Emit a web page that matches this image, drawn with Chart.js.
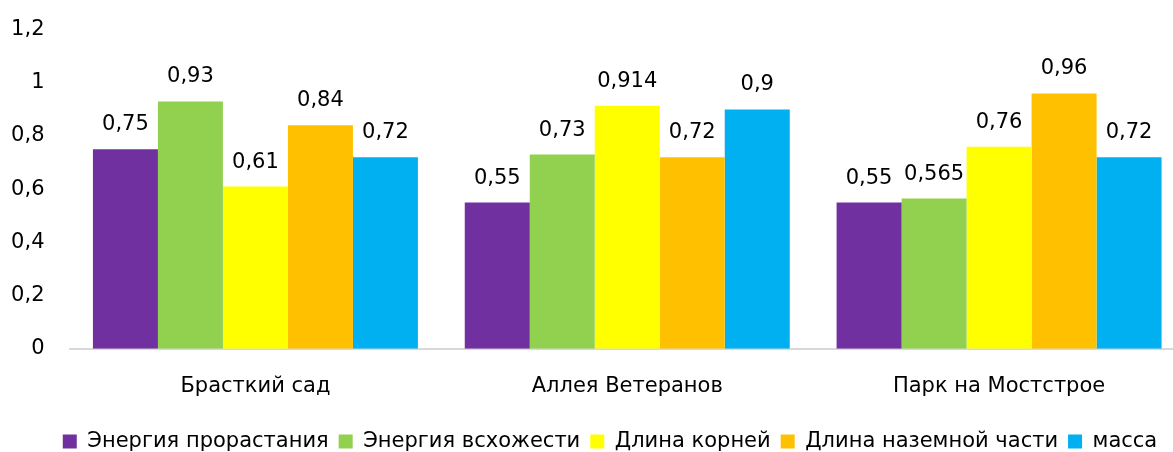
<!DOCTYPE html>
<html>
<head>
<meta charset="utf-8">
<script src="https://cdn.jsdelivr.net/npm/chart.js@4"></script>
<style>
html,body{margin:0;padding:0;background:#fff;overflow:hidden;}
#wrap{width:1185px;height:452px;}
</style>
</head>
<body>
<div id="wrap"><canvas id="c" width="1185" height="452"></canvas></div>
<script>
const categories = ["Брасткий сад", "Аллея Ветеранов", "Парк на Мостстрое"];
const seriesNames = ["Энергия прорастания", "Энергия всхожести", "Длина корней", "Длина наземной части", "масса"];
const energyGermination = [0.75, 0.55, 0.55];
const energyEmergence = [0.93, 0.73, 0.565];
const rootLength = [0.61, 0.914, 0.76];
const shootLength = [0.84, 0.72, 0.96];
const mass = [0.72, 0.9, 0.72];
const yTickLabels = ["0", "0,2", "0,4", "0,6", "0,8", "1", "1,2"];
const colors = ["#7030A0", "#92D050", "#FFFF00", "#FFC000", "#00B0F0"];

const FONT = "'DejaVu Sans', sans-serif";
const FS = 21;
const seriesValues = [energyGermination, energyEmergence, rootLength, shootLength, mass];

const valueLabels = {
  id: 'valueLabels',
  afterDatasetsDraw(chart) {
    const ctx = chart.ctx;
    ctx.save();
    ctx.font = FS + "px " + FONT;
    ctx.fillStyle = "#000";
    ctx.textAlign = "center";
    ctx.textBaseline = "alphabetic";
    chart.data.datasets.forEach((ds, i) => {
      const meta = chart.getDatasetMeta(i);
      meta.data.forEach((bar, j) => {
        const txt = String(ds.data[j]).replace('.', ',');
        ctx.fillText(txt, bar.x, bar.y - 19);
      });
    });
    ctx.restore();
  }
};

const legendShift = {
  id: 'legendShift',
  afterLayout(chart) {
    if (chart.legend) chart.legend.left = 35;
  }
};

new Chart(document.getElementById('c'), {
  type: 'bar',
  data: {
    labels: categories,
    datasets: seriesNames.map((n, i) => ({
      label: n,
      data: seriesValues[i],
      backgroundColor: colors[i],
      borderWidth: 0,
      barPercentage: 1,
      categoryPercentage: 0.874
    }))
  },
  options: {
    responsive: false,
    animation: false,
    devicePixelRatio: 1,
    layout: { padding: { left: 0, right: 0, top: 9, bottom: -10 } },
    plugins: {
      legend: {
        position: 'bottom',
        labels: {
          font: { family: FONT, size: FS },
          color: '#000',
          boxWidth: 14,
          boxHeight: 14,
          padding: 10
        }
      },
      tooltip: { enabled: false }
    },
    scales: {
      x: {
        grid: { display: false },
        border: { display: true, color: '#D9D9D9', width: 2 },
        afterFit(scale) { scale.height += 5; },
        ticks: { font: { family: FONT, size: FS }, color: '#000', padding: 17 }
      },
      y: {
        min: 0, max: 1.2,
        grid: { display: false },
        border: { display: false },
        afterFit(scale) { scale.width = 69.5; },
        ticks: {
          stepSize: 0.2,
          font: { family: FONT, size: FS },
          color: '#000',
          padding: 17,
          callback: (v, i) => yTickLabels[i]
        }
      }
    }
  },
  plugins: [valueLabels, legendShift]
});
</script>
</body>
</html>
